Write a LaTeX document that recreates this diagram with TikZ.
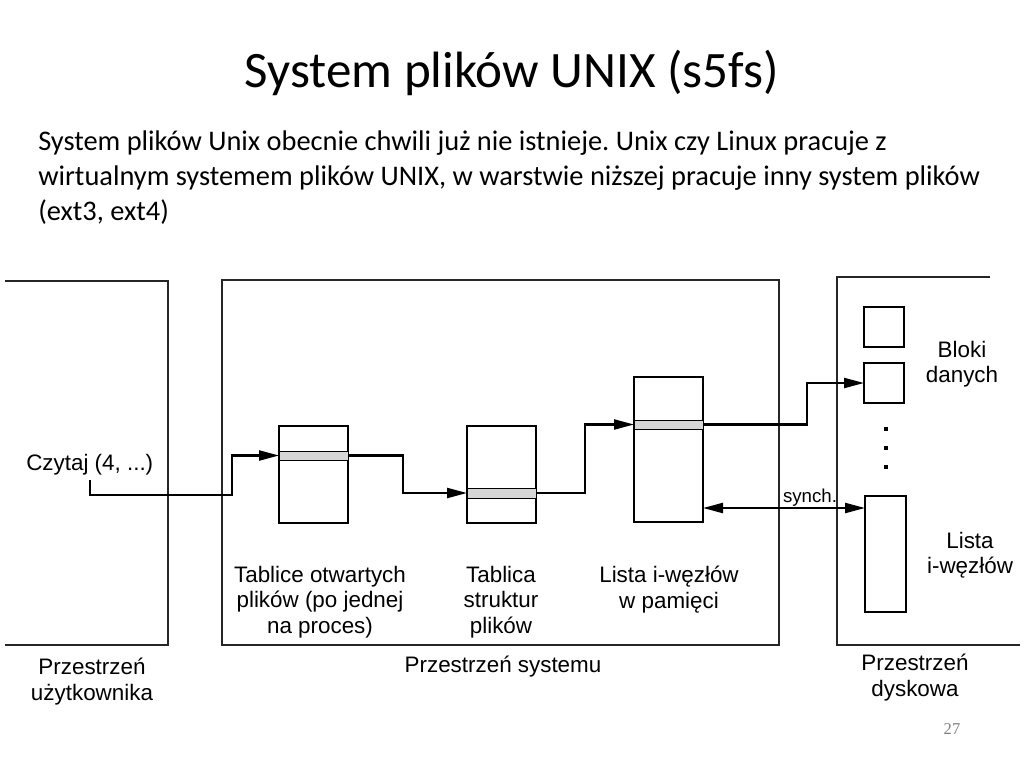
\documentclass[tikz,border=0pt]{standalone}
\usepackage{fontspec}
\setmainfont{Carlito}
\newfontfamily\arialf{Liberation Sans}
\newfontfamily\serf{Liberation Serif}
\usetikzlibrary{arrows.meta}
\frenchspacing
\begin{document}
\begin{tikzpicture}[x=0.75pt,y=-0.75pt,
  region/.style={draw=black!85, line width=0.9pt},
  box/.style={draw, line width=1.1pt, rectangle, inner sep=0pt, outer sep=0pt},
  band/.style={draw, line width=0.6pt, fill=gray!32, rectangle, inner sep=0pt, outer sep=0pt},
  dotsq/.style={fill=black, rectangle, inner sep=0pt, minimum size=3.2pt},
  tip/.tip={Triangle[length=15pt,width=7.5pt]},
  arr/.style={line width=1.7pt, -tip},
  dbl/.style={line width=1.7pt, tip-tip},
  lab/.style={font=\arialf\fontsize{16.8}{19.1}\selectfont, align=center, inner sep=0pt},
  smalllab/.style={font=\arialf\fontsize{14}{16}\selectfont, inner sep=0pt},
]
\useasboundingbox[fill=white] (0,0) rectangle (1024,768);

% title and body
\node[font=\fontsize{38.3}{46}\selectfont, anchor=base, inner sep=0pt] (title) at (512,87) {System plików UNIX (s5fs)};
\node[font=\fontsize{21.3}{25.9}\selectfont, align=left, anchor=north west, inner sep=0pt] (body) at (38,131)
 {System plików Unix obecnie chwili już nie istnieje. Unix czy Linux pracuje z\\
  wirtualnym systemem plików UNIX, w warstwie niższej pracuje inny system plików\\
  (ext3, ext4)};

% regions
\draw[region] (5,281) -- (168,281) -- (168,645) -- (5,645);
\draw[region] (222,280) rectangle (779,645);
\draw[region] (990,277) -- (837,277) -- (837,645) -- (1020,645);

% boxes
\node[box, minimum width=51.75pt, minimum height=72.75pt] (boxA) at (313.5,474.5) {};
\node[box, minimum width=51.75pt, minimum height=72.75pt] (boxB) at (501.5,474.5) {};
\node[box, minimum width=51.75pt, minimum height=108.75pt] (boxC) at (668.5,449.5) {};
\node[band, minimum width=51.75pt, minimum height=6.75pt] (bandA) at (313.5,455.5) {};
\node[band, minimum width=51.75pt, minimum height=7.5pt] (bandB) at (501.5,493) {};
\node[band, minimum width=51.75pt, minimum height=6.75pt] (bandC) at (668.5,424.5) {};
\node[box, minimum width=30pt, minimum height=30pt] (blk1) at (884,327) {};
\node[box, minimum width=30pt, minimum height=30pt] (blk2) at (884,383) {};
\node[box, minimum width=30.75pt, minimum height=87pt] (tall) at (885.5,554) {};
\node[dotsq] (d1) at (886,429) {};
\node[dotsq] (d2) at (886,448) {};
\node[dotsq] (d3) at (886,467) {};

% labels
\node[lab, anchor=base west] (czytaj) at (26,470) {Czytaj (4, ...)};
\node[lab, anchor=north] (labA) at (320,566) {Tablice otwartych\\plików (po jednej\\na proces)};
\node[lab, anchor=north] (labB) at (501,566) {Tablica\\struktur\\plików};
\node[lab, anchor=north] (labC) at (669,566) {Lista i-węzłów\\w pamięci};
\node[lab, anchor=north] (bloki) at (962,341) {Bloki\\danych};
\node[lab, anchor=north] (lista) at (970,532) {Lista\\i-węzłów};
\node[lab, anchor=north] (uzyt) at (92,658) {Przestrzeń\\użytkownika};
\node[lab, anchor=base] (sys) at (503,672) {Przestrzeń systemu};
\node[lab, anchor=north] (disk) at (915,654) {Przestrzeń\\dyskowa};
\node[font=\serf\fontsize{12.4}{14}\selectfont, text=gray, anchor=base, inner sep=0pt] (pnum) at (952,734) {27};

% connectors
\coordinate (cstart) at (90,480);
\draw[arr] (cstart) |- (232,495) |- (bandA.west);
\draw[arr] (bandA.east) -| (403,493) -- (bandB.west);
\draw[arr] (bandB.east) -| (585,424.5) -- (bandC.west);
\draw[arr] (bandC.east) -| (807,383) -- (blk2.west);
\coordinate (sy) at (780,508);
\draw[dbl] (boxC.east |- sy) -- (tall.west |- sy);
\node[smalllab, anchor=base] (synch) at (810,502) {synch.};
\end{tikzpicture}
\end{document}
